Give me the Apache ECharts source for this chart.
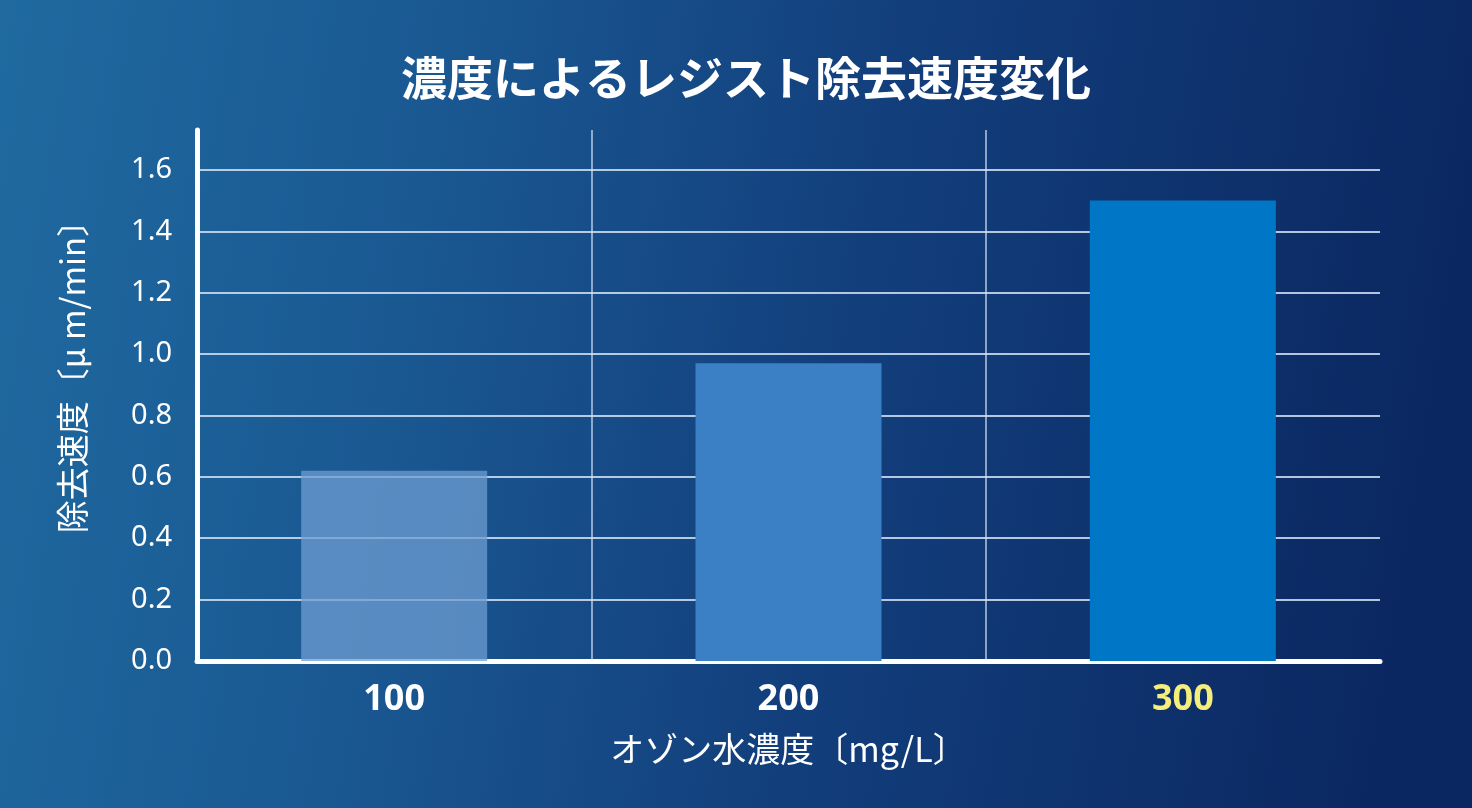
<!DOCTYPE html>
<html>
<head>
<meta charset="utf-8">
<script src="https://cdn.jsdelivr.net/npm/echarts@6/dist/echarts.min.js"></script>
<style>
html,body{margin:0;padding:0;width:1472px;height:808px;overflow:hidden;}
#chart{width:1472px;height:808px;}
</style>
</head>
<body>
<div id="chart"></div>
<script>
const titleText = '濃度によるレジスト除去速度変化';
const xName = 'オゾン水濃度〔mg/L〕';
const yName = '除去速度〔μ m/min〕';
const categories = ['100', '200', '300'];
const values = [0.62, 0.97, 1.5];
const barColors = ['rgba(110,158,210,0.75)', '#3b80c4', '#0077c6'];
const labelColors = ['#ffffff', '#ffffff', '#f6ee7c'];

const FONT = '"Noto Sans", "Noto Sans CJK JP", sans-serif';
const CJK = '"Noto Sans CJK JP", sans-serif';
const chart = echarts.init(document.getElementById('chart'));
chart.setOption({
  backgroundColor: {
    type: 'linear', x: 0, y: 0, x2: 1, y2: 0.3,
    colorStops: [
      {offset: 0, color: '#1f6aa0'},
      {offset: 0.3, color: '#1a5892'},
      {offset: 0.6, color: '#123f7c'},
      {offset: 1, color: '#0b2761'}
    ]
  },
  title: {
    text: titleText,
    left: 741, top: 50, textAlign: 'center',
    textStyle: {color: '#ffffff', fontSize: 46, fontWeight: 'bold', fontFamily: CJK}
  },
  grid: {left: 197, right: 92, top: 130, bottom: 147},
  xAxis: {
    type: 'category',
    data: categories,
    name: xName,
    nameLocation: 'middle',
    nameGap: 71,
    nameTextStyle: {color: '#ffffff', fontSize: 34, fontFamily: CJK},
    axisLine: {show: true, lineStyle: {color: '#ffffff', width: 5}},
    axisTick: {show: false},
    axisLabel: {
      margin: 21,
      fontSize: 36, fontWeight: 'bold', fontFamily: FONT,
      color: (v, i) => labelColors[i]
    },
    splitLine: {show: true, showMinLine: false, showMaxLine: false, lineStyle: {color: 'rgba(210,225,245,0.85)', width: 1.5}}
  },
  yAxis: {
    type: 'value',
    min: 0, max: 1.73, interval: 0.2,
    name: yName,
    nameLocation: 'middle',
    nameGap: 108,
    nameRotate: 90,
    nameTextStyle: {color: '#ffffff', fontSize: 33, fontFamily: CJK, padding: [0, 0, 0, 54]},
    axisLine: {show: true, lineStyle: {color: '#ffffff', width: 5}},
    axisTick: {show: false},
    axisLabel: {
      showMaxLabel: false,
      margin: 25,
      fontSize: 29, fontFamily: FONT, color: '#ffffff',
      formatter: v => v.toFixed(1)
    },
    splitLine: {show: true, showMaxLine: false, lineStyle: {color: 'rgba(210,225,245,0.85)', width: 2}}
  },
  series: [{
    type: 'bar',
    data: values.map((v, i) => ({value: v, itemStyle: {color: barColors[i]}})),
    barWidth: 186,
    z: 3
  }]
});
</script>
</body>
</html>
